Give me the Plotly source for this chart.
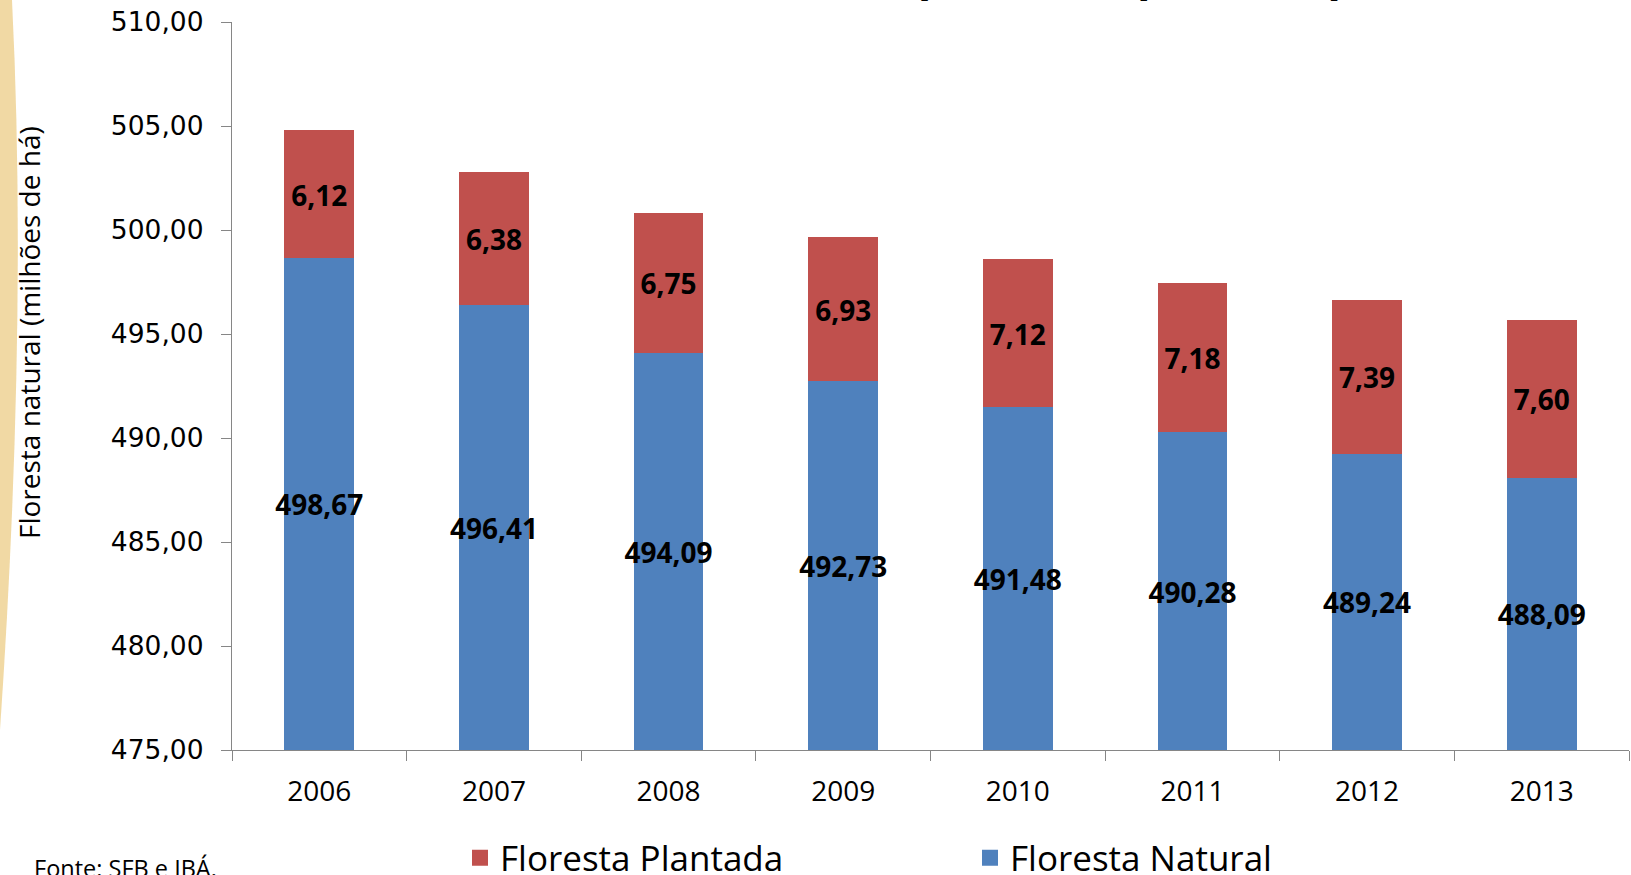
import plotly.graph_objects as go

anos = ["2006", "2007", "2008", "2009", "2010", "2011", "2012", "2013"]
floresta_natural = [498.67, 496.41, 494.09, 492.73, 491.48, 490.28, 489.24, 488.09]
floresta_plantada = [6.12, 6.38, 6.75, 6.93, 7.12, 7.18, 7.39, 7.60]
y_min, y_max = 475, 510
titulo = "Área de florestas no Brasil (natural e plantada)"
eixo_y = "Floresta natural (milhões de há)"
fonte = "Fonte: SFB e IBÁ."

AZUL = "#4F81BD"
VERMELHO = "#C0504D"
FONT = "Open Sans"

W, H = 1631, 875
ML, MR, MT, MB = 232, 2, 22, 125
PW, PH = W - ML - MR, H - MT - MB


def px(x):
    return (x - ML) / PW


def py(y):
    return (H - MB - y) / PH


fig = go.Figure()
fig.add_trace(go.Bar(
    x=anos, y=floresta_natural, name="Floresta Natural", legendgroup="nat",
    showlegend=False, marker=dict(color=AZUL, line=dict(width=0)),
    hoverinfo="x+y+name",
))
fig.add_trace(go.Bar(
    x=anos, y=floresta_plantada, name="Floresta Plantada", legendgroup="pla",
    showlegend=False, marker=dict(color=VERMELHO, line=dict(width=0)),
    hoverinfo="x+y+name",
))
# legend entries (larger square swatches, linked to the bars)
fig.add_trace(go.Scatter(
    x=[None], y=[None], mode="markers", name="Floresta Natural", legendgroup="nat",
    marker=dict(symbol="square", size=16, color=AZUL), hoverinfo="skip",
))
fig.add_trace(go.Scatter(
    x=[None], y=[None], mode="markers", name="Floresta Plantada", legendgroup="pla",
    marker=dict(symbol="square", size=16, color=VERMELHO), hoverinfo="skip",
))

# data labels centred in the visible part of each segment
off = 4.5 * (y_max - y_min) / PH  # small optical shift downward (px -> data units)
lab_y_nat = [(y_min + n) / 2 - off for n in floresta_natural]
lab_y_pla = [n + p / 2 - off for n, p in zip(floresta_natural, floresta_plantada)]
lab_txt = [f"{v:.2f}".replace(".", ",") for v in floresta_natural] + \
          [f"{v:.2f}".replace(".", ",") for v in floresta_plantada]
fig.add_trace(go.Scatter(
    x=anos + anos, y=lab_y_nat + lab_y_pla, mode="text", text=lab_txt,
    textfont=dict(family=FONT, size=28, color="black", weight="bold"),
    showlegend=False, hoverinfo="skip",
))

fig.update_layout(
    width=W, height=H,
    margin=dict(l=ML, r=MR, t=MT, b=MB, autoexpand=False),
    barmode="stack", bargap=0.6,
    separators=",.",
    plot_bgcolor="white", paper_bgcolor="white",
    font=dict(family=FONT, color="black"),
    showlegend=True,
    legend=dict(
        orientation="h", traceorder="reversed", itemsizing="trace",
        x=px(460), xanchor="left", y=py(858), yanchor="middle",
        font=dict(family=FONT, size=35, color="black"),
        entrywidth=465, entrywidthmode="pixels",
        bgcolor="rgba(0,0,0,0)",
    ),
    xaxis=dict(
        type="category", showgrid=False, showline=True,
        linecolor="#868686", linewidth=1.3,
        ticks="outside", tickson="boundaries", ticklen=10,
        tickcolor="#868686", tickwidth=1.3,
        tickfont=dict(family=FONT, size=28, color="black"),
        ticklabelstandoff=16,
        range=[-0.5, 7.5],
    ),
    yaxis=dict(
        range=[y_min, y_max], dtick=5, tickformat=".2f",
        showgrid=False, showline=True, zeroline=False,
        linecolor="#868686", linewidth=1.3,
        ticks="outside", ticklen=10, tickcolor="#868686", tickwidth=1.3,
        tickfont=dict(family="DejaVu Sans", size=26.5, color="black"),
        ticklabelstandoff=12,
    ),
    shapes=[dict(
        type="path", xref="paper", yref="paper", layer="below",
        path=(f"M {px(0)},{py(0)} L {px(12)},{py(0)} "
              f"Q {px(28)},{py(320)} {px(0)},{py(730)} Z"),
        fillcolor="rgba(238,210,148,0.85)", line=dict(width=0),
    )],
    annotations=[
        dict(text=titulo, xref="paper", yref="paper", x=px(1348), y=py(3),
             xanchor="right", yanchor="bottom", showarrow=False,
             font=dict(family="Liberation Sans", size=47, color="black", weight="bold")),
        dict(text=eixo_y, xref="paper", yref="paper", x=px(29), y=py(333),
             xanchor="center", yanchor="middle", textangle=-90, showarrow=False,
             font=dict(family=FONT, size=28, color="black")),
        dict(text=fonte, xref="paper", yref="paper", x=px(32), y=py(868),
             xanchor="left", yanchor="middle", showarrow=False,
             font=dict(family=FONT, size=23.5, color="black")),
    ],
)

fig.write_html("out.html", config={"displayModeBar": False},
               post_script="document.body.style.margin='0';document.body.style.overflow='hidden';")
